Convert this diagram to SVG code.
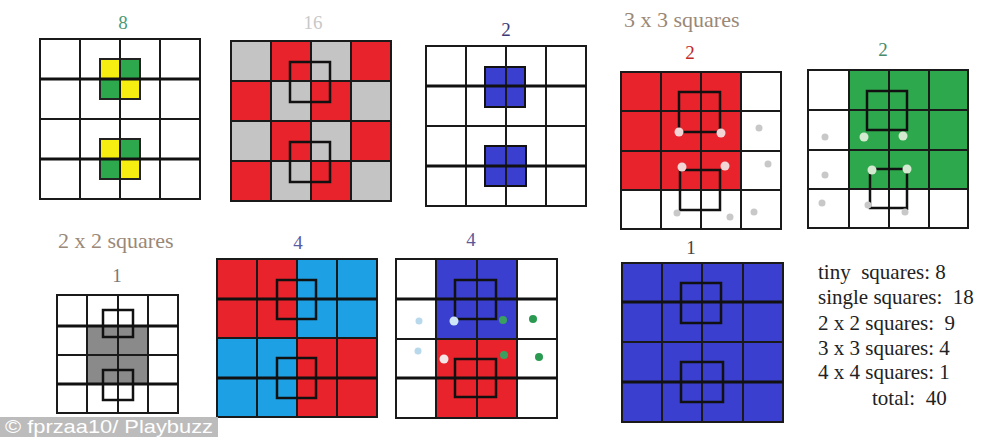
<svg xmlns="http://www.w3.org/2000/svg" width="983" height="437" viewBox="0 0 983 437">
<style>
.g{stroke:#1a1a1a;stroke-width:2;fill:none}
.t{stroke:#111;stroke-width:3}
.ov{fill:none;stroke:#111;stroke-width:2.5}
.lbl{font-family:"Liberation Serif","Times New Roman",serif;font-size:19px;text-anchor:middle}
.hd{font-family:"Liberation Serif","Times New Roman",serif;fill:#9a8878}
.sum{font-family:"Liberation Serif","Times New Roman",serif;font-size:21px;fill:#222}
.r{fill:#e8232b}.gy{fill:#c4c4c4}.b{fill:#3a3fd0}.lb{fill:#1ea0e4}.gr{fill:#2ea84c}.y{fill:#f6ee10}
</style>
<rect width="983" height="437" fill="#fff"/>

<g id="grid-tiny">
<text class="lbl" x="123" y="29" fill="#4a9a78">8</text>
<rect x="100" y="59" width="20" height="20" class="y"/><rect x="120" y="59" width="20" height="20" class="gr"/>
<rect x="100" y="79" width="20" height="20" class="gr"/><rect x="120" y="79" width="20" height="20" class="y"/>
<rect x="100" y="139" width="20" height="20" class="y"/><rect x="120" y="139" width="20" height="20" class="gr"/>
<rect x="100" y="159" width="20" height="20" class="gr"/><rect x="120" y="159" width="20" height="20" class="y"/>
<rect x="100" y="59" width="40" height="40" fill="none" stroke="#222" stroke-width="2"/>
<rect x="100" y="139" width="40" height="40" fill="none" stroke="#222" stroke-width="2"/>
<rect x="40" y="39" width="160" height="160" class="g"/>
<path class="g" d="M80,39V199M120,39V199M160,39V199M40,119H200"/>
<path class="g t" d="M40,79H200M40,159H200"/>
</g>

<g id="grid-single">
<text class="lbl" x="313" y="29" fill="#c8c8c8">16</text>
<rect x="231" y="41" width="40" height="40" class="gy"/><rect x="271" y="41" width="40" height="40" class="r"/><rect x="311" y="41" width="40" height="40" class="gy"/><rect x="351" y="41" width="40" height="40" class="r"/>
<rect x="231" y="81" width="40" height="40" class="r"/><rect x="271" y="81" width="40" height="40" class="gy"/><rect x="311" y="81" width="40" height="40" class="r"/><rect x="351" y="81" width="40" height="40" class="gy"/>
<rect x="231" y="121" width="40" height="40" class="gy"/><rect x="271" y="121" width="40" height="40" class="r"/><rect x="311" y="121" width="40" height="40" class="gy"/><rect x="351" y="121" width="40" height="40" class="r"/>
<rect x="231" y="161" width="40" height="40" class="r"/><rect x="271" y="161" width="40" height="40" class="gy"/><rect x="311" y="161" width="40" height="40" class="r"/><rect x="351" y="161" width="40" height="40" class="gy"/>
<rect x="231" y="41" width="160" height="160" class="g"/>
<path class="g" d="M271,41V201M311,41V201M351,41V201M231,81H391M231,121H391M231,161H391"/>
<rect x="290" y="62" width="40" height="40" class="ov"/>
<rect x="290" y="142" width="40" height="40" class="ov"/>
</g>

<g id="grid-blue2">
<text class="lbl" x="506" y="36" fill="#3a3a78">2</text>
<rect x="485" y="67" width="40" height="40" class="b" stroke="#111" stroke-width="2"/>
<rect x="485" y="146" width="41" height="40" class="b" stroke="#111" stroke-width="2"/>
<rect x="426" y="46" width="160" height="160" class="g"/>
<path class="g" d="M466,46V206M506,46V206M546,46V206M426,126H586"/>
<path class="g t" d="M426,86H586M426,166H586"/>
</g>

<text class="hd" x="624" y="27" font-size="22">3 x 3 squares</text>

<g id="grid-3x3-red">
<text class="lbl" x="690" y="59" fill="#c0282a">2</text>
<rect x="621" y="72" width="120" height="118" class="r"/>
<rect x="621" y="72" width="160" height="157" class="g"/>
<path class="g" d="M661,72V229M701,72V229M741,72V229M621,111H781M621,151H781M621,190H781"/>
<rect x="679" y="92" width="41" height="40" class="ov"/>
<rect x="680" y="170" width="40" height="40" class="ov"/>
<g fill="#f2d6d6"><circle cx="679" cy="132" r="4.5"/><circle cx="721" cy="133" r="4.5"/><circle cx="682" cy="167" r="4.5"/><circle cx="725" cy="166" r="4.5"/></g>
<g fill="#c8c8c8"><circle cx="759" cy="128" r="3.5"/><circle cx="768" cy="164" r="3.5"/><circle cx="754" cy="212" r="3.5"/><circle cx="730" cy="217" r="3.5"/><circle cx="677" cy="213" r="3.5"/></g>
</g>

<g id="grid-3x3-green">
<text class="lbl" x="883" y="56" fill="#4a8a6a">2</text>
<rect x="849" y="70" width="119" height="119" class="gr"/>
<rect x="808" y="70" width="160" height="158" class="g"/>
<path class="g" d="M849,70V228M889,70V228M929,70V228M808,110H968M808,150H968M808,189H968"/>
<rect x="867" y="91" width="40" height="39" class="ov"/>
<path class="ov" d="M872,169H907V210M870,170V208H907"/>
<g fill="#d4ead0"><circle cx="864" cy="137" r="4.5"/><circle cx="903" cy="136" r="4.5"/><circle cx="872" cy="170" r="4.5"/><circle cx="907" cy="169" r="4.5"/></g>
<g fill="#c8c8c8"><circle cx="825" cy="137" r="3.5"/><circle cx="825" cy="175" r="3.5"/><circle cx="822" cy="203" r="3.5"/><circle cx="868" cy="205" r="3.5"/><circle cx="905" cy="212" r="3.5"/></g>
</g>

<text class="hd" x="58" y="248" font-size="22">2 x 2 squares</text>

<g id="grid-2x2-gray">
<text class="lbl" x="117" y="282" fill="#777">1</text>
<rect x="87" y="326" width="61" height="58" fill="#8a8a8a"/>
<rect x="57" y="295" width="121" height="118" class="g"/>
<path class="g" d="M87,295V413M118,295V413M148,295V413M57,355H178"/>
<path class="g t" d="M57,326H178M57,384H178"/>
<rect x="103" y="310" width="30" height="27" class="ov"/>
<rect x="103" y="370" width="30" height="30" class="ov"/>
</g>

<g id="grid-2x2-redblue">
<text class="lbl" x="298" y="249" fill="#5a5aa0">4</text>
<rect x="217" y="259" width="80" height="79" class="r"/><rect x="297" y="259" width="80" height="79" class="lb"/>
<rect x="217" y="338" width="80" height="79" class="lb"/><rect x="297" y="338" width="80" height="79" class="r"/>
<rect x="217" y="259" width="160" height="158" class="g"/>
<path class="g" d="M257,259V417M297,259V417M337,259V417M217,338H377"/>
<path class="g t" d="M217,299H377M217,378H377"/>
<rect x="277" y="280" width="39" height="39" class="ov"/>
<rect x="277" y="358" width="39" height="40" class="ov"/>
</g>

<g id="grid-2x2-column">
<text class="lbl" x="471" y="246" fill="#5a5a9a">4</text>
<rect x="436" y="259" width="81" height="80" class="b"/>
<rect x="436" y="339" width="81" height="79" class="r"/>
<rect x="396" y="259" width="161" height="159" class="g"/>
<path class="g" d="M436,259V418M477,259V418M517,259V418M396,339H557"/>
<path class="g t" d="M396,299H557M396,378H557"/>
<rect x="455" y="280" width="41" height="39" class="ov"/>
<rect x="455" y="359" width="41" height="38" class="ov"/>
<circle cx="419" cy="321" r="3.5" fill="#b8d8ec"/><circle cx="418" cy="351" r="3.5" fill="#b8d8ec"/>
<circle cx="454" cy="321" r="4.5" fill="#cfe6f8"/><circle cx="444" cy="359" r="4.5" fill="#f4e6e6"/>
<circle cx="503" cy="320" r="4" fill="#3aa060"/><circle cx="533" cy="319" r="4" fill="#2a9a50"/>
<circle cx="504" cy="355" r="4" fill="#3aa060"/><circle cx="539" cy="357" r="4" fill="#2a9a50"/>
</g>

<g id="grid-4x4">
<text class="lbl" x="691" y="254" fill="#444">1</text>
<rect x="622" y="263" width="161" height="159" class="b"/>
<rect x="622" y="263" width="161" height="159" class="g"/>
<path class="g" d="M662,263V422M702,263V422M743,263V422M622,342H783"/>
<path class="g t" d="M622,302H783M622,382H783"/>
<rect x="681" y="283" width="40" height="40" class="ov"/>
<rect x="681" y="362" width="42" height="40" class="ov"/>
</g>

<g id="summary">
<text class="sum" x="818" y="279" xml:space="preserve">tiny  squares: 8</text>
<text class="sum" x="818" y="304" xml:space="preserve">single squares:  18</text>
<text class="sum" x="818" y="330" xml:space="preserve">2 x 2 squares:  9</text>
<text class="sum" x="818" y="355">3 x 3 squares: 4</text>
<text class="sum" x="818" y="379">4 x 4 squares: 1</text>
<text class="sum" x="872" y="405" xml:space="preserve">total:  40</text>
</g>

<g id="watermark">
<rect x="0" y="417" width="218" height="20" fill="#bcbcbc"/>
<text x="5" y="433" font-family="'Liberation Sans',Arial,sans-serif" font-size="19" fill="#fff" textLength="208" lengthAdjust="spacingAndGlyphs">© fprzaa10/ Playbuzz</text>
</g>
</svg>
